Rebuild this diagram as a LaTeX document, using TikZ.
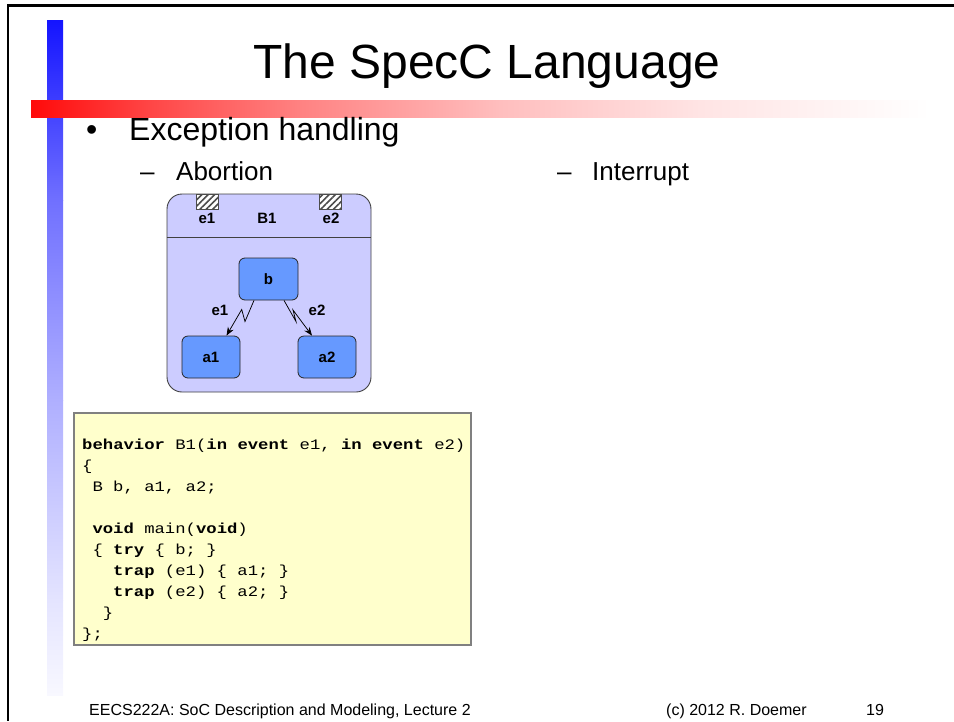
\documentclass[tikz,border=0pt]{standalone}
\usepackage{fontspec}
\setmainfont{Liberation Sans}
\newfontfamily\codefont[FakeStretch=1.19,WordSpace={1,0,0}]{Liberation Mono}
\usetikzlibrary{arrows.meta,patterns.meta}
\definecolor{blueA}{RGB}{20,20,255}
\definecolor{blueB}{RGB}{112,112,255}
\definecolor{blueC}{RGB}{175,175,255}
\definecolor{blueD}{RGB}{228,228,255}
\definecolor{blueE}{RGB}{248,248,255}
\definecolor{redA}{RGB}{255,10,10}
\definecolor{redB}{RGB}{255,70,70}
\definecolor{redC}{RGB}{255,130,130}
\definecolor{redD}{RGB}{255,190,190}
\definecolor{redE}{RGB}{255,228,228}
\definecolor{lavender}{RGB}{204,204,255}
\definecolor{blockblue}{RGB}{102,153,255}
\definecolor{codeyellow}{RGB}{255,255,204}
\tikzset{
  codeline/.style={font=\codefont\fontsize{14.5}{21}\selectfont, inner sep=0, anchor=base west},
  lbl/.style={font=\bfseries\fontsize{15}{18}\selectfont, inner sep=0, anchor=base},
  blk/.style={draw=black!85, line width=0.8pt, fill=blockblue, rounded corners=6pt,
    minimum width=58pt, minimum height=42pt, inner sep=0,
    font=\bfseries\fontsize{15}{18}\selectfont, text height=11pt, text depth=0pt},
  port/.style={draw=black!70, line width=0.6pt, preaction={fill=white},
    pattern={Lines[angle=45,distance=4.5pt,line width=1.6pt]}, pattern color=black!70,
    minimum width=22pt, minimum height=15pt, inner sep=0},
  zig/.style={draw=black, line width=0.75pt, -{Stealth[length=8.5pt,width=6.5pt]}},
  txt/.style={inner sep=0, anchor=base west},
}
\begin{document}
\begin{tikzpicture}[x=1pt,y=-1pt]
\useasboundingbox (0,0) rectangle (954,721);
% slide frame
\draw[line width=2.2pt] (7,5.5) -- (954,5.5);
\draw[line width=2.2pt] (8,4.5) -- (8,721);
% blue vertical bar
\shade[top color=blueA,bottom color=blueB] (47,20) rectangle (63,200.5);
\shade[top color=blueB,bottom color=blueC] (47,200) rectangle (63,400.5);
\shade[top color=blueC,bottom color=blueD] (47,400) rectangle (63,600.5);
\shade[top color=blueD,bottom color=blueE] (47,600) rectangle (63,695);
% red horizontal bar
\shade[left color=redA,right color=redB] (31,100) rectangle (150.5,117);
\shade[left color=redB,right color=redC] (150,100) rectangle (300.5,117);
\shade[left color=redC,right color=redD] (300,100) rectangle (500.5,117);
\shade[left color=redD,right color=redE] (500,100) rectangle (700.5,117);
\shade[left color=redE,right color=white] (700,100) rectangle (930,117);
% title and bullets
\node[font=\fontsize{48}{58}\selectfont, inner sep=0, anchor=base] (title) at (487,78) {The SpecC Language};
\node[txt, font=\fontsize{32}{38}\selectfont] (bul) at (86,140) {•};
\node[txt, font=\fontsize{32}{38}\selectfont] (exc) at (129,140) {Exception handling};
\node[txt, font=\fontsize{26}{31}\selectfont] (abort) at (140,180) {\makebox[36pt][l]{–}Abortion};
\node[txt, font=\fontsize{26}{31}\selectfont] (intr) at (557,180) {\makebox[35pt][l]{–}Interrupt};
% behavior diagram
\node[draw=black!75, line width=0.9pt, fill=lavender, rounded corners=15pt,
  minimum width=204pt, minimum height=198pt, inner sep=0] (B1box) at (269,293) {};
\draw[black!75, line width=0.9pt] (B1box.west |- 0,237) -- (B1box.east |- 0,237);
\node[port] (p1) at (207,201.5) {};
\node[port] (p2) at (330.5,201.5) {};
\node[lbl] (le1) at (207,223) {e1};
\node[lbl] (lB1) at (267,223) {B1};
\node[lbl] (le2) at (331,223) {e2};
\node[blk, minimum width=59pt] (b) at (268.5,279) {b};
\node[blk] (a1) at (211,357) {a1};
\node[blk] (a2) at (327,357) {a2};
\draw[zig] ([xshift=-14.5pt]b.south) -- (245,321.5) -- (241.7,309.5) -- ([xshift=15.5pt]a1.north);
\draw[zig] ([xshift=15.5pt]b.south) -- (296,321.5) -- (293,310) -- ([xshift=-15pt]a2.north);
\node[lbl] (t1) at (220,315) {e1};
\node[lbl] (t2) at (317,315) {e2};
% code box
\node[draw=black!50, line width=1.3pt, fill=codeyellow, minimum width=397pt,
  minimum height=232pt, inner sep=0] (codebox) at (272.5,529) {};
\node[codeline] (c0) at (82,449) {\textbf{behavior} B1(\textbf{in} \textbf{event} e1, \textbf{in} \textbf{event} e2)};
\node[codeline] (c1) at (82,470) {\{};
\node[codeline] (c2) at (92.3,491) {B b, a1, a2;};
\node[codeline] (c4) at (92.3,533) {\textbf{void} main(\textbf{void})};
\node[codeline] (c5) at (92.3,554) {\{ \textbf{try} \{ b; \}};
\node[codeline] (c6) at (113,575) {\textbf{trap} (e1) \{ a1; \}};
\node[codeline] (c7) at (113,596) {\textbf{trap} (e2) \{ a2; \}};
\node[codeline] (c8) at (102.7,617) {\}};
\node[codeline] (c9) at (82,638) {\};};
% footer
\node[txt, font=\fontsize{16}{19}\selectfont] (f1) at (89,715) {EECS222A: SoC Description and Modeling, Lecture 2};
\node[txt, font=\fontsize{16}{19}\selectfont] (f2) at (666,715) {(c) 2012 R. Doemer};
\node[txt, font=\fontsize{16}{19}\selectfont] (f3) at (866,715) {19};
\end{tikzpicture}
\end{document}
